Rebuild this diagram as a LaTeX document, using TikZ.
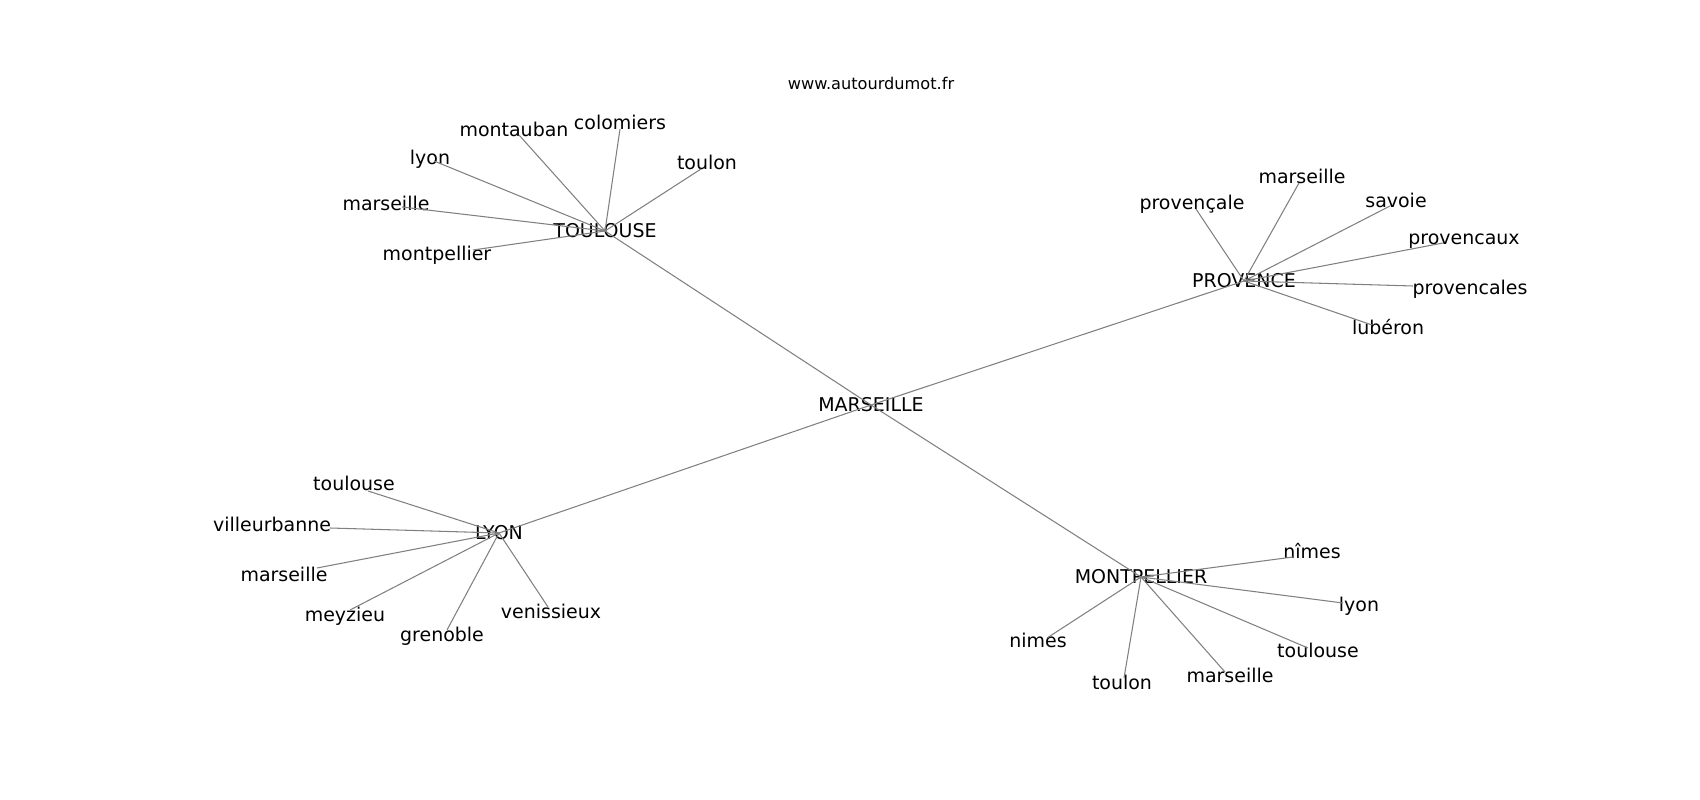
\documentclass[tikz,border=0pt]{standalone}
\usepackage{fontspec}
\setmainfont{DejaVu Sans}
\begin{document}
\begin{tikzpicture}[x=0.02cm, y=-0.02cm,
		word/.style={inner sep=0pt, text height=0.75em, text depth=0pt,
			font=\fontsize{10.8}{13}\selectfont},
		link/.style={draw=gray, line width=0.6pt}]
		\useasboundingbox (0,0) rectangle (1700,800);
		\node[inner sep=0pt, font=\fontsize{9.2}{11}\selectfont] (site) at (871,83) {www.autourdumot.fr};
		
		% centre and the four hubs
		\node[word] (mars) at (871,405) {MARSEILLE};
		\node[word] (toul) at (605,231) {TOULOUSE};
		\node[word] (prov) at (1244,281) {PROVENCE};
		\node[word] (lyon) at (499,533) {LYON};
		\node[word] (mont) at (1141,577) {MONTPELLIER};
		\draw[link] (mars.center) -- (toul.center);
		\draw[link] (mars.center) -- (prov.center);
		\draw[link] (mars.center) -- (lyon.center);
		\draw[link] (mars.center) -- (mont.center);
		
		% toulouse
		\coordinate (t1) at (519,135); \node[word] (t1w) at (514,130) {montauban};
		\coordinate (t2) at (620,129); \node[word] (t2w) at (620,123) {colomiers};
		\coordinate (t3) at (701,169); \node[word] (t3w) at (707,163) {toulon};
		\coordinate (t4) at (434,161); \node[word] (t4w) at (430,158) {lyon};
		\coordinate (t5) at (402,207); \node[word] (t5w) at (386,204) {marseille};
		\coordinate (t6) at (473,250); \node[word] (t6w) at (437,254) {montpellier};
		\draw[link] (toul.center) -- (t1);
		\draw[link] (toul.center) -- (t2);
		\draw[link] (toul.center) -- (t3);
		\draw[link] (toul.center) -- (t4);
		\draw[link] (toul.center) -- (t5);
		\draw[link] (toul.center) -- (t6);
		
		% provence
		\coordinate (p1) at (1196,209); \node[word] (p1w) at (1192,203) {provençale};
		\coordinate (p2) at (1299,183); \node[word] (p2w) at (1302,177) {marseille};
		\coordinate (p3) at (1390,206); \node[word] (p3w) at (1396,201) {savoie};
		\coordinate (p4) at (1443,243); \node[word] (p4w) at (1464,238) {provencaux};
		\coordinate (p5) at (1413,286); \node[word] (p5w) at (1470,288) {provencales};
		\coordinate (p6) at (1372,325); \node[word] (p6w) at (1388,328) {lubéron};
		\draw[link] (prov.center) -- (p1);
		\draw[link] (prov.center) -- (p2);
		\draw[link] (prov.center) -- (p3);
		\draw[link] (prov.center) -- (p4);
		\draw[link] (prov.center) -- (p5);
		\draw[link] (prov.center) -- (p6);
		
		% lyon
		\coordinate (l1) at (368,491); \node[word] (l1w) at (354,484) {toulouse};
		\coordinate (l2) at (330,528); \node[word] (l2w) at (272,525) {villeurbanne};
		\coordinate (l3) at (317,568); \node[word] (l3w) at (284,575) {marseille};
		\coordinate (l4) at (350,610); \node[word] (l4w) at (345,615) {meyzieu};
		\coordinate (l5) at (447,630); \node[word] (l5w) at (442,635) {grenoble};
		\coordinate (l6) at (548,607); \node[word] (l6w) at (551,612) {venissieux};
		\draw[link] (lyon.center) -- (l1);
		\draw[link] (lyon.center) -- (l2);
		\draw[link] (lyon.center) -- (l3);
		\draw[link] (lyon.center) -- (l4);
		\draw[link] (lyon.center) -- (l5);
		\draw[link] (lyon.center) -- (l6);
		
		% montpellier
		\coordinate (m1) at (1293,557); \node[word] (m1w) at (1312,552) {nîmes};
		\coordinate (m2) at (1343,603); \node[word] (m2w) at (1359,605) {lyon};
		\coordinate (m3) at (1308,648); \node[word] (m3w) at (1318,651) {toulouse};
		\coordinate (m4) at (1225,672); \node[word] (m4w) at (1230,676) {marseille};
		\coordinate (m5) at (1124,678); \node[word] (m5w) at (1122,683) {toulon};
		\coordinate (m6) at (1047,638); \node[word] (m6w) at (1038,641) {nimes};
		\draw[link] (mont.center) -- (m1);
		\draw[link] (mont.center) -- (m2);
		\draw[link] (mont.center) -- (m3);
		\draw[link] (mont.center) -- (m4);
		\draw[link] (mont.center) -- (m5);
		\draw[link] (mont.center) -- (m6);
\end{tikzpicture}
\end{document}
